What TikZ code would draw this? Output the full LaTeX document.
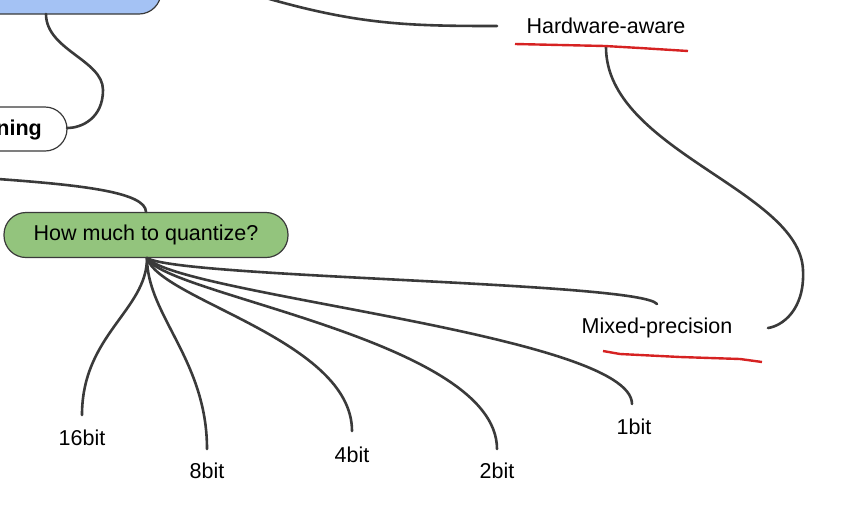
\documentclass[tikz,border=0pt]{standalone}
\usepackage{fontspec}
\setmainfont{Liberation Sans}
\definecolor{bluebox}{HTML}{A4C2F4}
\definecolor{greenbox}{HTML}{93C47D}
\definecolor{linegray}{HTML}{3A3A3A}
\definecolor{redline}{HTML}{D62222}
\begin{document}
\begin{tikzpicture}[x=1pt,y=-1pt,
  conn/.style={draw=linegray,line width=2.6pt,line cap=round},
  redmark/.style={draw=redline,line width=2.4pt,line join=round},
  lbl/.style={font=\fontsize{21.5}{24}\selectfont,text=black,inner sep=0pt},
  boxborder/.style={draw=linegray,line width=1.2pt}]
\useasboundingbox (0,0) rectangle (844,507);
\begin{scope}
\clip (0,0) rectangle (844,507);
% blue box (cut off)
\path[boxborder,fill=bluebox,rounded corners=22pt] (-40,-40) rectangle (161,14);
\coordinate (bb) at (46,14);
% "ning" box
\path[boxborder,fill=white,rounded corners=22pt] (-60,107) rectangle (67,151);
\node[lbl,font=\fontsize{21.5}{24}\selectfont\bfseries,anchor=east] (ning) at (42,130) {ning};
\coordinate (ningr) at (67,128);
% green box
\node[lbl,boxborder,fill=greenbox,rounded corners=22pt,minimum width=284pt,minimum height=45pt] (q) at (146,235) {How much to quantize?};
% labels
\node[lbl] (hw) at (606,26) {Hardware-aware};
\node[lbl] (mp) at (657,328) {Mixed-precision};
\node[lbl] (b16) at (82,438) {16bit};
\node[lbl] (b8) at (207,471) {8bit};
\node[lbl] (b4) at (352,455) {4bit};
\node[lbl] (b2) at (497,471) {2bit};
\node[lbl] (b1) at (634,427) {1bit};
% connector end coordinates
\coordinate (qb) at (147,258);
\coordinate (qt) at (146,212);
\coordinate (e16) at (82,415);
\coordinate (e8) at (207,449);
\coordinate (e4) at (352,431);
\coordinate (e2) at (497,449);
\coordinate (e1) at (632,404);
\coordinate (emp) at (657,304);
\coordinate (emr) at (768,328);
\coordinate (ehw) at (606,47);
\coordinate (hwl) at (497,26);
\coordinate (tl) at (266,-2);
\coordinate (lft) at (-2,179);
% connectors
\draw[conn] (bb) .. controls (46,50) and (103,60) .. (103,90) .. controls (103,118) and (82,128) .. (ningr);
\draw[conn] (tl) .. controls (360,25) and (410,26) .. (hwl);
\draw[conn] (lft) .. controls (80,185) and (146,192) .. (qt);
\draw[conn] (ehw) .. controls (606,150) and (800,190) .. (803,270) .. controls (805,310) and (782,326) .. (emr);
\draw[conn] (qb) .. controls (147,310) and (82,335) .. (e16);
\draw[conn] (qb) .. controls (147,315) and (207,360) .. (e8);
\draw[conn] (qb) .. controls (160,300) and (352,340) .. (e4);
\draw[conn] (qb) .. controls (165,295) and (497,340) .. (e2);
\draw[conn] (qb) .. controls (180,295) and (632,335) .. (e1);
\draw[conn] (qb) .. controls (180,278) and (640,282) .. (emp);
% red underlines
\draw[redmark] (515,44) -- (560,45) -- (605,46) -- (640,48) -- (688,51);
\draw[redmark] (603,351) -- (620,354) -- (680,357) -- (740,359) -- (762,362);
\end{scope}
\end{tikzpicture}
\end{document}
